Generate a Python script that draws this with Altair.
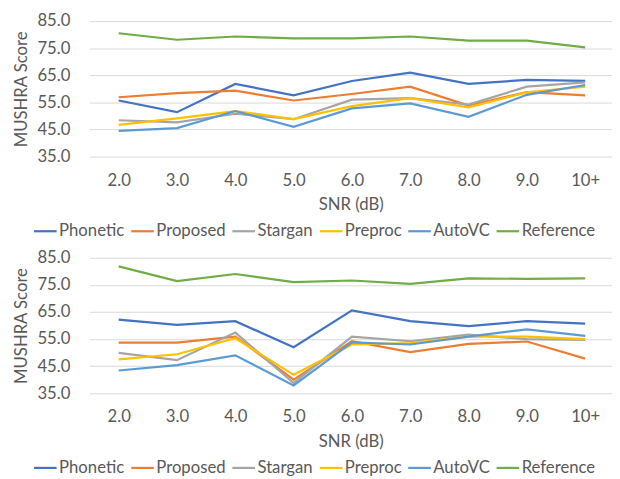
import json
import altair as alt
import pandas as pd

snr_labels = ["2.0", "3.0", "4.0", "5.0", "6.0", "7.0", "8.0", "9.0", "10+"]
series = ["Phonetic", "Proposed", "Stargan", "Preproc", "AutoVC", "Reference"]
colors = ["#4472C4", "#ED7D31", "#A5A5A5", "#FFC000", "#5B9BD5", "#70AD47"]
y_ticks = [35, 45, 55, 65, 75, 85]

# Top panel
top_phonetic = [55.7, 51.4, 61.8, 57.6, 62.9, 66.0, 61.8, 63.3, 62.9]
top_proposed = [56.9, 58.4, 59.3, 55.7, 58.1, 60.8, 53.8, 58.8, 57.6]
top_stargan = [48.4, 47.6, 50.8, 48.8, 56.0, 56.6, 54.2, 60.8, 62.4]
top_preproc = [46.7, 49.1, 51.8, 48.8, 53.6, 56.6, 53.2, 58.7, 60.8]
top_autovc = [44.5, 45.5, 51.8, 46.0, 52.8, 54.6, 49.7, 57.8, 61.4]
top_reference = [80.5, 78.1, 79.3, 78.6, 78.6, 79.3, 77.8, 77.8, 75.3]

# Bottom panel
bot_phonetic = [62.2, 60.2, 61.6, 52.0, 65.6, 61.6, 59.8, 61.6, 60.7]
bot_proposed = [53.7, 53.7, 55.9, 40.0, 54.2, 50.2, 53.2, 54.1, 47.8]
bot_stargan = [49.9, 47.2, 57.4, 38.8, 55.9, 54.2, 56.6, 55.0, 54.7]
bot_preproc = [47.5, 49.4, 55.3, 41.8, 53.0, 53.5, 55.9, 55.9, 55.0]
bot_autovc = [43.4, 45.4, 49.0, 37.9, 53.8, 53.0, 55.9, 58.6, 56.2]
bot_reference = [81.8, 76.4, 79.0, 76.0, 76.6, 75.4, 77.4, 77.2, 77.4]

TEXT = "#595959"
FONT = "Lato"


def make_df(values):
    rows = []
    for s, vals in zip(series, values):
        for i, v in enumerate(vals):
            rows.append({"idx": i, "snr": snr_labels[i], "series": s, "score": v})
    return pd.DataFrame(rows)


label_expr = json.dumps(snr_labels) + "[datum.value]"


def panel(values):
    df = make_df(values)
    return alt.Chart(df).mark_line(strokeWidth=2.25).encode(
        x=alt.X(
            "idx:Q",
            scale=alt.Scale(domain=[-0.5, 8.46], nice=False, zero=False),
            axis=alt.Axis(
                values=list(range(len(snr_labels))),
                labelExpr=label_expr,
                title="SNR (dB)",
                grid=False,
                domain=False,
                ticks=False,
                labelPadding=16,
                titlePadding=9,
            ),
        ),
        y=alt.Y(
            "score:Q",
            scale=alt.Scale(domain=[35, 85], nice=False, zero=False),
            axis=alt.Axis(
                values=y_ticks,
                format=".1f",
                title="MUSHRA Score",
                domain=False,
                ticks=False,
                labelPadding=20,
                titlePadding=7,
                gridColor="#D9D9D9",
                gridWidth=1,
            ),
        ),
        color=alt.Color(
            "series:N",
            sort=series,
            scale=alt.Scale(domain=series, range=colors),
            legend=alt.Legend(
                title=None,
                orient="none",
                legendX=-58,
                legendY=201,
                direction="horizontal",
                columns=6,
                symbolType="stroke",
                symbolSize=529,
                symbolStrokeWidth=2.25,
                labelOffset=1,
                columnPadding=2,
                labelFontSize=17,
                labelColor=TEXT,
                labelFont=FONT,
                labelLimit=0,
            ),
        ),
    ).properties(width=532, height=138)


top = panel([top_phonetic, top_proposed, top_stargan, top_preproc, top_autovc, top_reference])
bottom = panel([bot_phonetic, bot_proposed, bot_stargan, bot_preproc, bot_autovc, bot_reference])

chart = (
    alt.vconcat(top, bottom, spacing=10)
    .resolve_scale(color="independent")
    .resolve_legend(color="independent")
    .properties(padding={"left": 4, "top": 0, "right": 0, "bottom": 0})
    .configure_view(stroke=None)
    .configure_axis(
        labelFont=FONT,
        titleFont=FONT,
        labelFontSize=17,
        titleFontSize=17,
        labelColor=TEXT,
        titleColor=TEXT,
        titleFontWeight="normal",
    )
)

chart.save("out.html", embed_options={"renderer": "svg", "actions": False})
